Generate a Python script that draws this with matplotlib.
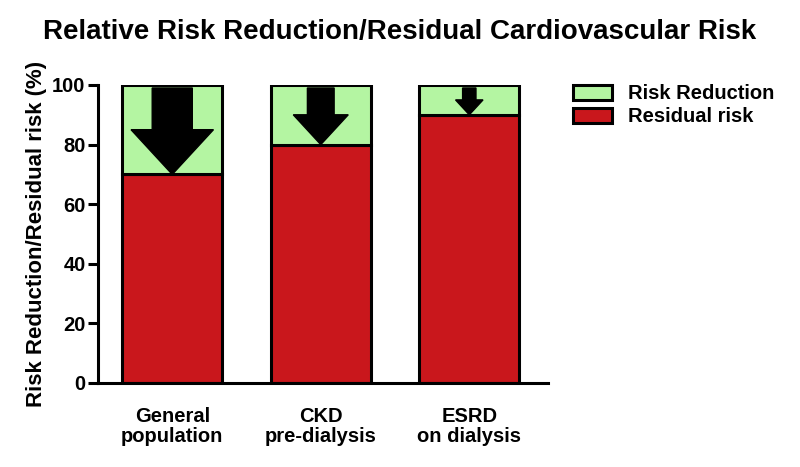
import matplotlib
matplotlib.use('Agg')
import matplotlib.pyplot as plt
from matplotlib.patches import FancyArrow, Patch

# data
categories = ['General\npopulation', 'CKD\npre-dialysis', 'ESRD\non dialysis']
residual_risk = [70, 80, 90]
risk_reduction = [30, 20, 10]
legend_labels = ['Risk Reduction', 'Residual risk']

green = '#b4f5a2'
red = '#c9171c'

plt.rcParams['font.family'] = ['Liberation Sans', 'DejaVu Sans']
plt.rcParams['font.weight'] = 'bold'

fig = plt.figure(figsize=(8, 4.67), dpi=100)
ax = fig.add_axes([0.1225, 0.18, 0.5625, 0.638])

x = list(range(len(categories)))
width = 0.676
ax.bar(x, residual_risk, width=width, color=red, edgecolor='black', linewidth=2.2, zorder=2)
ax.bar(x, risk_reduction, width=width, bottom=residual_risk, color=green,
       edgecolor='black', linewidth=2.2, zorder=2)

# downward arrows sized by the reduction
for xi, res, red_val in zip(x, residual_risk, risk_reduction):
    top = res + red_val - 1
    arr = FancyArrow(xi, top, 0, -(top - res), width=0.009 * red_val,
                     head_width=0.0185 * red_val, head_length=0.5 * red_val,
                     length_includes_head=True, color='black', zorder=3)
    ax.add_patch(arr)

ax.set_xlim(-0.5, 2.53)
ax.set_ylim(0, 100)
ax.set_yticks([0, 20, 40, 60, 80, 100])
ax.set_xticks(x)
ax.set_xticklabels(categories, fontsize=14.5, fontweight='bold', linespacing=1.1)
ax.tick_params(axis='x', length=0, pad=17)
ax.tick_params(axis='y', length=7, width=2.2, labelsize=14.5, pad=2)
for lab in ax.get_yticklabels():
    lab.set_fontweight('bold')

for s in ['top', 'right']:
    ax.spines[s].set_visible(False)
for s in ['left', 'bottom']:
    ax.spines[s].set_linewidth(2.2)

ax.set_ylabel('Risk Reduction/Residual risk (%)', fontsize=16, fontweight='bold', labelpad=4)

handles = [Patch(facecolor=green, edgecolor='black', linewidth=2.2),
           Patch(facecolor=red, edgecolor='black', linewidth=2.2)]
fig.legend(handles, legend_labels, loc='upper left', bbox_to_anchor=(0.694, 0.858),
           frameon=False, prop={'size': 14.5, 'weight': 'bold'},
           handlelength=1.9, handleheight=0.75, handletextpad=0.8, labelspacing=0.2)

fig.text(0.5, 0.932, 'Relative Risk Reduction/Residual Cardiovascular Risk',
         ha='center', va='center', fontsize=20, fontweight='bold')

fig.savefig('out.png', dpi=100)
